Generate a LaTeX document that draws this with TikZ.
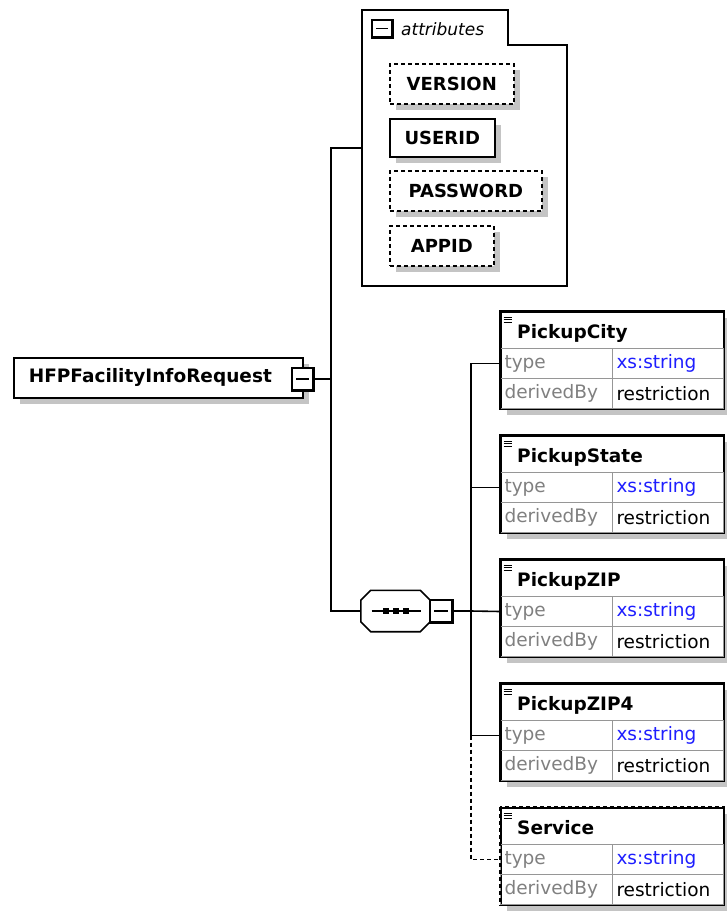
\documentclass[tikz,border=0pt]{standalone}
\usepackage{fontspec}
\setmainfont{DejaVu Sans}
\usetikzlibrary{shadows}
\definecolor{shadowgray}{RGB}{196,196,196}
\definecolor{txtgray}{RGB}{128,128,128}
\definecolor{linkblue}{RGB}{30,30,255}
\definecolor{cellgray}{RGB}{150,150,150}
\tikzset{
  conn/.style={line width=1.6pt, black},
  dconn/.style={conn, dash pattern=on 4pt off 3pt},
  shad/.style={drop shadow={shadow xshift=6pt, shadow yshift=-6pt, fill=shadowgray, opacity=1}},
  boldtxt/.style={font=\fontsize{18.5}{21}\selectfont\bfseries},
  rootbox/.style={draw, line width=1.6pt, fill=white, shad, text width=259pt, inner xsep=15pt, inner ysep=0pt,
     minimum height=40pt, align=left, anchor=north west, boldtxt},
  attrsolid/.style={draw, line width=1.6pt, fill=white, shad, inner sep=0pt, anchor=north west,
     font=\fontsize{18}{21}\selectfont\bfseries},
  attrdashed/.style={attrsolid, dash pattern=on 4pt off 3pt},
  minusbox/.style={draw, line width=1.6pt, fill=white, inner sep=0pt,
     path picture={\draw[line width=1.5pt] ([xshift=4pt]path picture bounding box.west) -- ([xshift=-4pt]path picture bounding box.east);}},
  elbox/.style={draw, line width=1.6pt, fill=white, shad, inner sep=0pt, anchor=north west, minimum width=223pt, minimum height=97pt},
  elborder/.style={line width=1.6pt},
  solidel/.style={},
  dashedel/.style={dash pattern=on 4pt off 3pt},
  cellL/.style={draw=cellgray, line width=1pt, anchor=north west, text width=104pt, inner xsep=4pt, inner ysep=0pt,
     minimum height=30pt, align=left, font=\fontsize{18.5}{21}\selectfont},
  cellR/.style={cellL, text width=103pt},
}
\newcommand{\xsdelem}[4]{%
  \node[elbox] (#1) at (500,#2) {};
  \node[cellL, text=txtgray] (#1Type) at (500,#2+37) {type};
  \node[cellR, text=linkblue] (#1TypeV) at (612,#2+37) {xs:string};
  \node[cellL, text=txtgray] (#1Der) at (500,#2+67) {derivedBy};
  \node[cellR, text=black] (#1DerV) at (612,#2+67) {restriction};
  \draw[elborder, #4, fill=none] (#1.north west) rectangle (#1.south east);
  \draw[line width=1pt] (503.5,#2+6) -- (511.5,#2+6) (503.5,#2+8.5) -- (511.5,#2+8.5) (503.5,#2+11) -- (511.5,#2+11);
  \node[boldtxt, anchor=base west, inner sep=0pt] (#1Title) at (517,#2+27) {#3};
}
\begin{document}
\begin{tikzpicture}[x=1pt,y=-1pt]
\useasboundingbox (0,0) rectangle (726,913);

% root element
\node[rootbox] (root) at (13,357) {HFPFacilityInfoRequest};
\node[minusbox, minimum width=21pt, minimum height=22pt] (rootm) at (302.5,379) {};

% attributes group
\node[minimum width=205pt, minimum height=276pt, inner sep=0pt, anchor=north west] (attrbox) at (362,10) {};
\draw[line width=1.6pt] (362,10) -- (508,10) -- (508,45) -- (567,45) -- (567,286) -- (362,286) -- cycle;
\node[minusbox, minimum width=20pt, minimum height=17pt] (attrm) at (382,28.5) {};
\node[anchor=west, inner sep=0pt, font=\fontsize{17}{20}\selectfont\itshape] (attrlabel) at (401,29) {attributes};

\node[attrdashed, minimum width=124pt, minimum height=40pt] (version) at (389,63) {VERSION};
\node[attrsolid, minimum width=105pt, minimum height=38pt] (userid) at (389,118) {USERID};
\node[attrdashed, minimum width=152pt, minimum height=40pt] (password) at (389,170) {PASSWORD};
\node[attrdashed, minimum width=104pt, minimum height=40pt] (appid) at (389,225) {APPID};

% sequence compositor
\node[minimum width=69pt, minimum height=41pt, inner sep=0pt] (seq) at (395.5,611) {};
\begin{scope}[xshift=6pt, yshift=-6pt]
\fill[shadowgray] ([xshift=10pt]seq.north west) -- ([xshift=-10pt]seq.north east) -- ([yshift=-10pt]seq.north east)
  -- ([yshift=10pt]seq.south east) -- ([xshift=-10pt]seq.south east) -- ([xshift=10pt]seq.south west)
  -- ([yshift=10pt]seq.south west) -- ([yshift=-10pt]seq.north west) -- cycle;
\end{scope}
\draw[line width=1.6pt, fill=white] ([xshift=10pt]seq.north west) -- ([xshift=-10pt]seq.north east) -- ([yshift=-10pt]seq.north east)
  -- ([yshift=10pt]seq.south east) -- ([xshift=-10pt]seq.south east) -- ([xshift=10pt]seq.south west)
  -- ([yshift=10pt]seq.south west) -- ([yshift=-10pt]seq.north west) -- cycle;
\draw[line width=1.5pt] ([xshift=-24pt]seq.center) -- ([xshift=25pt]seq.center);
\foreach \dx in {-9.5,0.5,10.5} \fill ([xshift=\dx pt]seq.center) +(-2.8,-2.8) rectangle +(2.8,2.8);
\node[minusbox, minimum width=22pt, minimum height=22pt] (seqm) at (441,611) {};

% 3D edges of minus boxes
\foreach \m in {rootm,attrm,seqm}
  \draw[line width=3pt] (\m.north east) -- (\m.south east) -- (\m.south west);

% child elements
\xsdelem{city}{311}{PickupCity}{solidel}
\xsdelem{state}{435}{PickupState}{solidel}
\xsdelem{zip}{559}{PickupZIP}{solidel}
\xsdelem{zipf}{683}{PickupZIP4}{solidel}
\xsdelem{serv}{807}{Service}{dashedel}

% connectors
\coordinate (trunk) at (331,379);
\coordinate (branch) at (471,611);
\draw[conn] (rootm.east) -- (trunk);
\draw[conn] (trunk) |- (attrbox.west);
\draw[conn] (trunk) |- (seq.west);
\draw[conn] (seqm.east) -- (branch);
\draw[conn] (branch) |- (cityType.west);
\draw[conn] (branch) |- (stateType.west);
\draw[conn] (branch) -- (zipType.west);
\draw[conn] (branch) |- (zipfType.west);
\draw[dconn] (zipfType.west -| branch) |- (servType.west);
\end{tikzpicture}
\end{document}
